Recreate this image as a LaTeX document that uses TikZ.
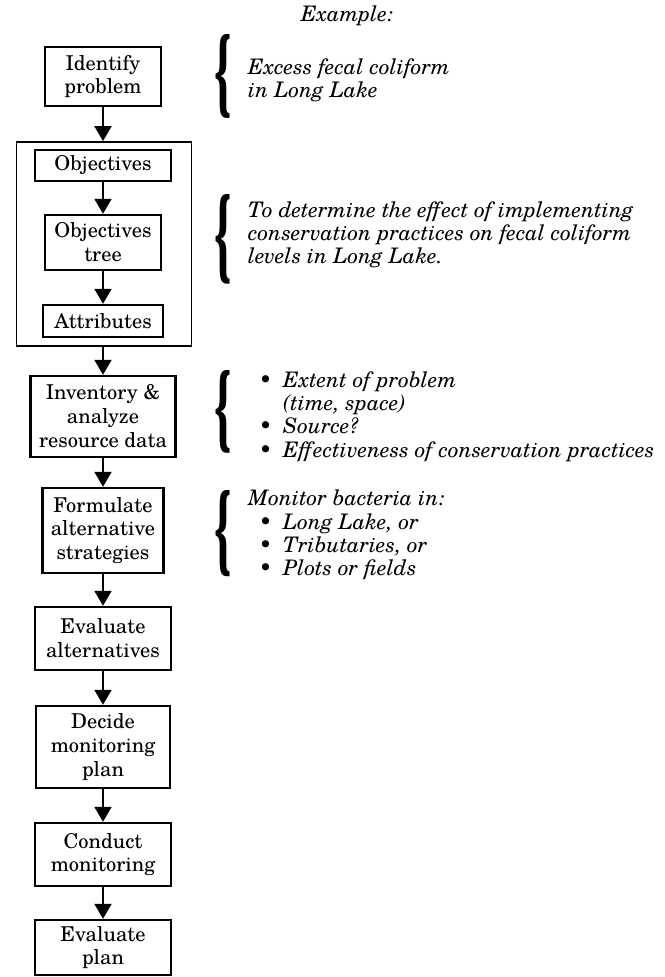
\documentclass[tikz,border=0pt]{standalone}
\usepackage{fontspec}
\setmainfont{TeX Gyre Schola}
\usetikzlibrary{arrows.meta}
\begin{document}
\begin{tikzpicture}[x=1bp,y=-1bp,
  box/.style={draw, line width=2.4bp, align=center, inner sep=0pt,
    font=\fontsize{20.5}{24}\selectfont},
  frame/.style={draw, line width=1.8bp, inner sep=0pt},
  arr/.style={line width=2bp, -{Triangle[width=17bp,length=15bp]}},
  note/.style={anchor=west, align=left, inner sep=0pt,
    font=\fontsize{21.5}{23.3}\selectfont\itshape},
  brace/.style={inner sep=0pt}
]
\useasboundingbox (0,0) rectangle (665,977);
\newcommand{\bigbrace}[1]{\resizebox{21bp}{#1}{\bfseries\{}}
\newcommand{\itm}{\makebox[35bp][c]{\upshape\textbullet}}
\newcommand{\ind}{\hspace*{35bp}}

% flow boxes
\node[box, minimum width=116bp, minimum height=59bp] (idp) at (103,76.5) {Identify\\problem};
\node[frame, minimum width=175bp, minimum height=204bp] (outer) at (104,244) {};
\node[box, minimum width=136bp, minimum height=31bp] (obj) at (103,165.5) {Objectives};
\node[box, minimum width=116bp, minimum height=55bp] (tree) at (103,242.5) {Objectives\\tree};
\node[box, minimum width=120bp, minimum height=32bp] (attr) at (103,321) {Attributes};
\node[box, minimum width=145bp, minimum height=81bp] (inv) at (103,416.5) {Inventory \&\\analyze\\resource data};
\node[box, minimum width=121bp, minimum height=85bp] (form) at (103,530.5) {Formulate\\alternative\\strategies};
\node[box, minimum width=136bp, minimum height=63bp] (evalt) at (103,638.5) {Evaluate\\alternatives};
\node[box, minimum width=134bp, minimum height=82bp] (dec) at (103,747) {Decide\\monitoring\\plan};
\node[box, minimum width=136bp, minimum height=63bp] (cond) at (103,854.5) {Conduct\\monitoring};
\node[box, minimum width=136bp, minimum height=55bp] (evpl) at (103,947.5) {Evaluate\\plan};

% connectors
\draw[arr] (idp.south) -- (idp.south |- outer.north);
\draw[arr] (obj.south) -- (tree.north);
\draw[arr] (tree.south) -- (attr.north);
\draw[arr] (inv.north |- outer.south) -- (inv.north);
\draw[arr] (inv.south) -- (form.north);
\draw[arr] (form.south) -- (evalt.north);
\draw[arr] (evalt.south) -- (dec.north);
\draw[arr] (dec.south) -- (cond.north);
\draw[arr] (cond.south) -- (evpl.north);

% example column
\node[note, anchor=center] (ex) at (347,16) {Example:};
\node[brace] (b1) at (222.5,76.5) {\bigbrace{73bp}};
\node[note] (t1) at (248,80.5) {Excess fecal coliform\\in Long Lake};
\node[brace] (b2) at (222.5,239) {\bigbrace{78bp}};
\node[note] (t2) at (248,235) {To determine the effect of implementing\\conservation practices on fecal coliform\\levels in Long Lake.};
\node[brace] (b3) at (222.5,412) {\bigbrace{72bp}};
\node[note] (t3) at (248,416.5) {\itm Extent of problem\\\ind(time, space)\\\itm Source?\\\itm Effectiveness of conservation practices};
\node[brace] (b4) at (222.5,533.5) {\bigbrace{75bp}};
\node[note] (t4) at (248,535) {Monitor bacteria in:\\\itm Long Lake, or\\\itm Tributaries, or\\\itm Plots or fields};
\end{tikzpicture}
\end{document}
